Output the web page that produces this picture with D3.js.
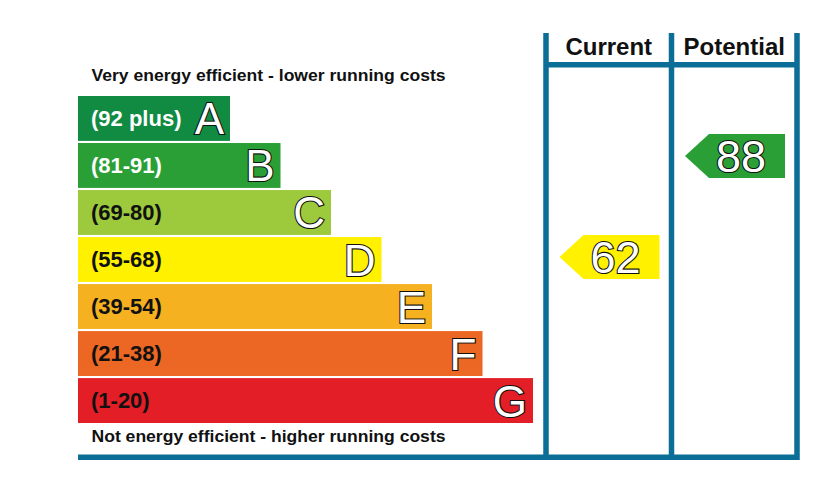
<!DOCTYPE html>
<html>
<head>
<meta charset="utf-8">
<script src="https://cdn.jsdelivr.net/npm/d3@7"></script>
<style>
  body { margin: 0; background: #fff; }
  text { font-family: "Liberation Sans", Arial, sans-serif; }
</style>
</head>
<body>
<div id="chart"></div>
<script>
// bands, top to bottom
const bandLetters = ['A', 'B', 'C', 'D', 'E', 'F', 'G']
const bandRanges = ['(92 plus)', '(81-91)', '(69-80)', '(55-68)', '(39-54)', '(21-38)', '(1-20)']
const bandColors = ['#118a42', '#2a9f35', '#9dc93c', '#fff100', '#f6b120', '#ec6723', '#e31e26']
const bandTextColors = ['#fff', '#fff', '#111', '#111', '#111', '#111', '#111']
const bandWidths = [1, 2, 3, 4, 5, 6, 7]   // relative bar length

// ratings
const columns = ['Current', 'Potential']
const ratings = [62, 88]
const ratingColors = ['#fff100', '#2a9f35']

const width = 839, height = 499
const blue = '#0a6e96'

const svg = d3.select('#chart')
    .append('svg')
    .attr('width', width)
    .attr('height', height)

// scales
const y = d3.scaleBand()
    .domain(bandLetters)
    .range([96, 423])
    .paddingInner(0.045)
    .paddingOuter(0)

const barX = d3.scaleLinear()
    .domain([1, 7])
    .range([152, 455])

const colX = d3.scaleBand()
    .domain(columns)
    .range([546, 797])

// score -> arrow centre
const scoreY = d3.scaleLinear()
    .domain([1, 100])
    .range([494, 109.4])

// top / bottom captions
function caption(txt, yy) {
    svg.append('text')
        .attr('x', 91.5)
        .attr('y', yy)
        .style('font-size', '16px')
        .style('font-weight', 'bold')
        .attr('fill', '#111')
        .attr('textLength', 354)
        .attr('lengthAdjust', 'spacingAndGlyphs')
        .text(txt)
}
caption('Very energy efficient - lower running costs', 80.5)
caption('Not energy efficient - higher running costs', 442)

// bars
const bands = svg.selectAll('g.band')
    .data(bandLetters)
    .enter()
    .append('g')
    .attr('class', 'band')
    .attr('transform', d => 'translate(78,' + y(d) + ')')

bands.append('rect')
    .attr('width', (d, i) => barX(bandWidths[i]))
    .attr('height', y.bandwidth())
    .attr('fill', (d, i) => bandColors[i])

bands.append('text')
    .attr('x', 13)
    .attr('y', y.bandwidth() / 2 + 7.5)
    .style('font-size', '22px')
    .style('font-weight', 'bold')
    .attr('fill', (d, i) => bandTextColors[i])
    .text((d, i) => bandRanges[i])

bands.append('text')
    .attr('x', (d, i) => barX(bandWidths[i]) - 6)
    .attr('y', y.bandwidth() / 2 + 16)
    .attr('text-anchor', 'end')
    .style('font-size', '44px')
    .attr('fill', '#fff')
    .attr('stroke', '#111')
    .attr('stroke-width', 2.2)
    .attr('paint-order', 'stroke')
    .text(d => d)

// column frame
const lineW = 5.5
const frame = svg.append('g')
columns.concat(['end']).forEach((c, i) => {
    const xx = i < columns.length ? colX(c) : colX.range()[1]
    frame.append('rect')
        .attr('x', xx - lineW / 2)
        .attr('y', 33)
        .attr('width', lineW)
        .attr('height', 455 - 33)
        .attr('fill', blue)
})
frame.append('rect')
    .attr('x', colX.range()[0])
    .attr('y', 62)
    .attr('width', colX.range()[1] - colX.range()[0])
    .attr('height', lineW)
    .attr('fill', blue)
frame.append('rect')
    .attr('x', 78)
    .attr('y', 454.5)
    .attr('width', colX.range()[1] + lineW / 2 - 78)
    .attr('height', lineW)
    .attr('fill', blue)

svg.selectAll('text.head')
    .data(columns)
    .enter()
    .append('text')
    .attr('class', 'head')
    .attr('x', d => colX(d) + colX.bandwidth() / 2)
    .attr('y', 55)
    .attr('text-anchor', 'middle')
    .style('font-size', '24px')
    .style('font-weight', 'bold')
    .attr('fill', '#111')
    .text(d => d)

// rating arrows
const arrowH = 44, tip = 24, bodyW = 76
const arrows = svg.selectAll('g.arrow')
    .data(ratings)
    .enter()
    .append('g')
    .attr('class', 'arrow')
    .attr('transform', (d, i) => 'translate(' + (colX(columns[i]) + colX.bandwidth() - 12) + ',' + scoreY(d) + ')')

arrows.append('path')
    .attr('d', 'M0,' + (-arrowH / 2) + 'H' + (-bodyW) + 'L' + (-bodyW - tip) + ',0L' + (-bodyW) + ',' + (arrowH / 2) + 'H0Z')
    .attr('fill', (d, i) => ratingColors[i])

arrows.append('text')
    .attr('x', -bodyW / 2 - 6)
    .attr('y', 16)
    .attr('text-anchor', 'middle')
    .style('font-size', '45px')
    .attr('fill', '#fff')
    .attr('stroke', '#111')
    .attr('stroke-width', 2.2)
    .attr('paint-order', 'stroke')
    .text(d => d)
</script>
</body>
</html>
